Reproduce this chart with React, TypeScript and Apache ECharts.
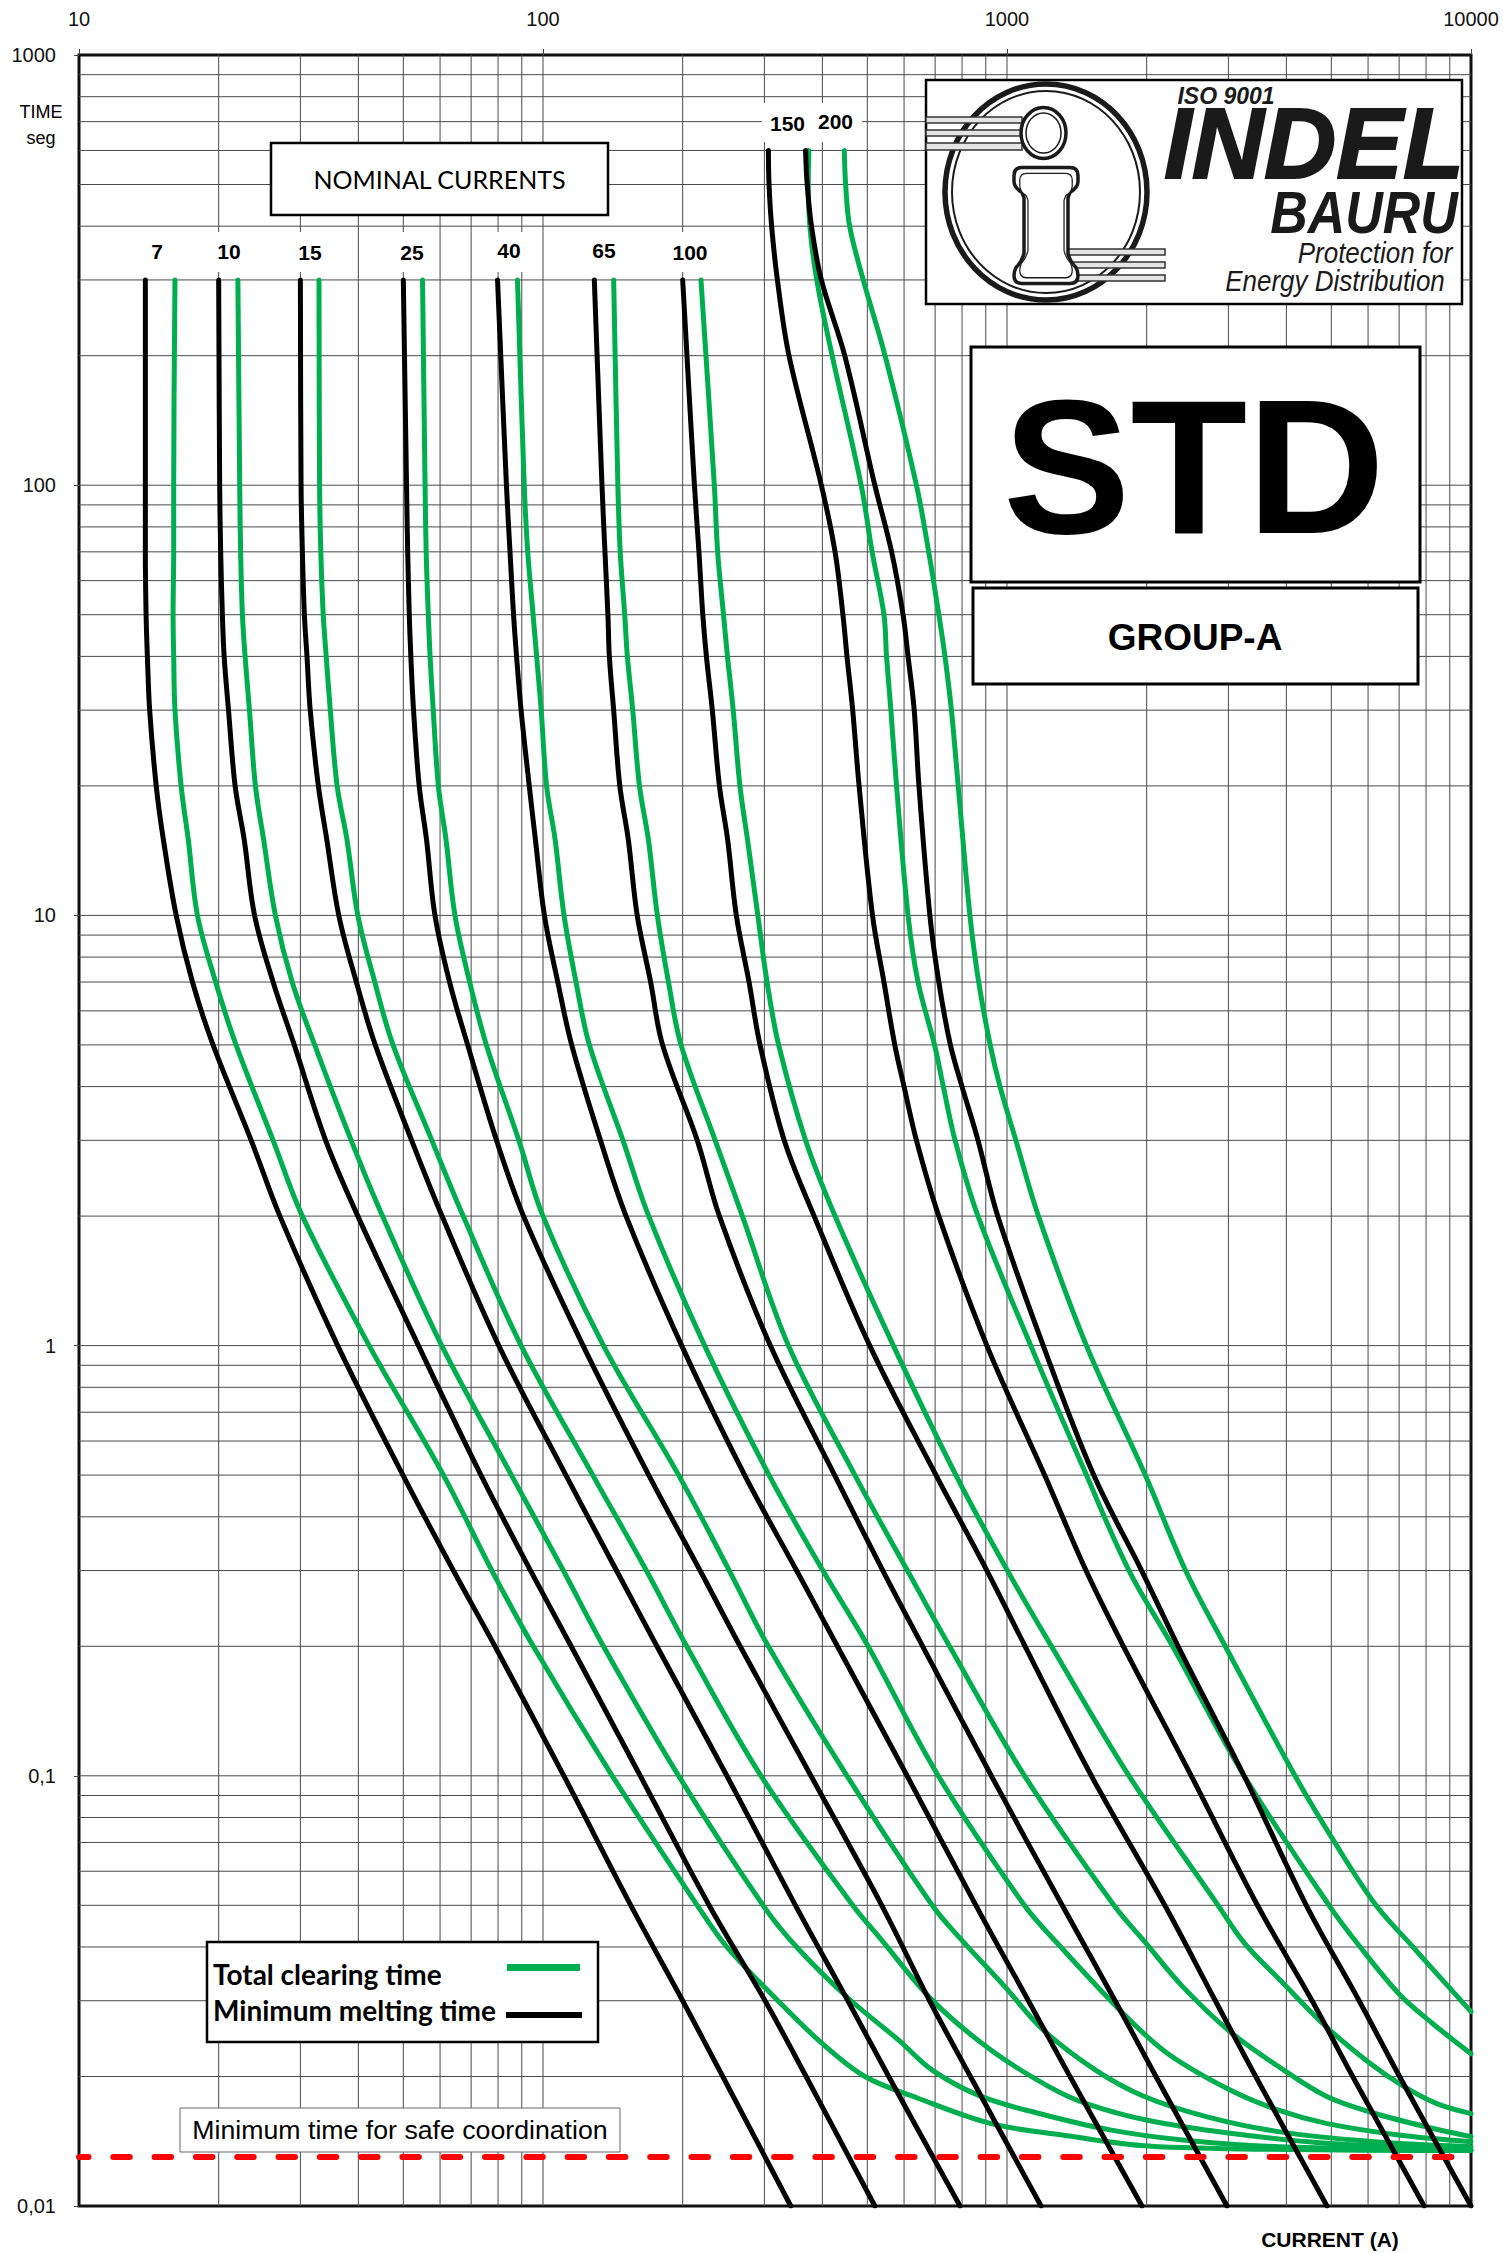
import React, { useEffect, useRef } from "react";
import * as echarts from "echarts";

type P = [number, number];

const xMinor = [20,30,40,50,60,70,80,90,100,200,300,400,500,600,700,800,900,1000,2000,3000,4000,5000,6000,7000,8000,9000];
const yMinor = [0.02,0.03,0.04,0.05,0.06,0.07,0.08,0.09,0.1,0.2,0.3,0.4,0.5,0.6,0.7,0.8,0.9,1,2,3,4,5,6,7,8,9,10,20,30,40,50,60,70,80,90,100,200,300,400,500,600,700,800,900];

const lowTimes = [300,100,70,50,40,30,20,15,10,7,5,3,2,1,0.5,0.3,0.2,0.1,0.05,0.03,0.02,0.01];
const tallTimes = [600,500,400,300,200,100,70,50,40,30,20,10,7,5,4,3,2,1,0.5,0.3,0.2,0.1,0.05,0.03,0.02,0.01];

const melt7 = [13.9,13.9,13.9,13.95,14.04,14.2,14.67,15.2,16.2,17.56,19.45,23.5,27.1,36.1,49.9,64.1,78.8,110.9,154.6,200,244,342];
const melt10 = [20,20.1,20.2,20.37,20.55,21.0,21.7,22.7,23.9,26.2,29.1,34,39.9,53.9,73.5,94,115,162,228,301,369,519];
const melt15 = [30,30.1,30.3,30.6,31,31.5,32.8,34.2,36.3,39.6,43.5,52.1,60.6,80.3,112,144,176,249,350,454,556,792];
const melt25 = [50,50.8,51.1,51.5,51.9,52.6,54.1,56.1,58.5,62.9,68.8,79.4,90.8,122,169,218,266,378,537,681,834,1184];
const melt40 = [79.8,83.4,84.9,86.4,87.7,89.7,93.4,96.3,100.7,107.6,115.3,133,151,199,272,352,431,609,857,1112,1367,1954];
const melt65 = [129,134,136,138,139,142,146.4,152.7,159.6,170.6,181,215,240,309,425,540,658,925,1315,1710,2094,2979];
const melt100 = [200,212,216.8,221,225,231.7,240,250,261,278,293.6,331,384,506,703,905,1094,1520,2188,2812,3436,4893];
const melt150 = [306,307,311,320,339,398,426,443,452,465,480,513,543,573,600,638,713,905,1205,1480,1782,2495,3466,4545,5559,7925];
const melt200 = [368,371,379,398,447,519,564,597,612,631,646,682,713,755,800,866,955,1197,1538,1950,2338,3243,4416,5740,7015,10000];

const clear7: P[] = [[16.1,300],[16,100],[16,70],[15.95,50],[16,40],[16.1,30],[16.6,20],[17.2,15],[18,10],[19.7,7],[21.8,5],[26.2,3],[30.3,2],[42.2,1],[61,0.5],[77.6,0.3],[95.3,0.2],[141,0.1],[215,0.05],[249,0.04],[321,0.03],[399,0.0239],[494,0.02],[643,0.0178],[920,0.01556],[1315,0.01462],[2118,0.01374],[10000,0.01345]];
const clear10: P[] = [[22,300],[22.2,100],[22.3,70],[22.5,50],[22.8,40],[23.3,30],[24,20],[25,15],[26.5,10],[28.8,7],[32.2,5],[38.6,3],[45.1,2],[60.5,1],[85.5,0.5],[110.6,0.3],[135,0.2],[196,0.1],[298,0.05],[352,0.04],[455,0.0304],[584,0.0243],[690,0.0207],[877,0.018],[1167,0.01643],[1667,0.01503],[2388,0.01424],[3846,0.01374],[10000,0.0135]];
const clear15: P[] = [[32.9,300],[33,100],[33.2,70],[33.6,50],[34.1,40],[34.8,30],[36,20],[37.8,15],[39.9,10],[43.4,7],[47.5,5],[57.6,3],[67.3,2],[89.7,1],[128,0.5],[167,0.3],[204,0.2],[295,0.1],[465,0.05],[532,0.042],[690,0.0301],[920,0.0231],[1225,0.019],[1482,0.0173],[2018,0.0158],[3027,0.01476],[4875,0.01399],[10000,0.01355]];
const clear25: P[] = [[55,300],[55.7,100],[56,70],[56.6,50],[57.1,40],[58,30],[59.5,20],[61.8,15],[64.6,10],[69.5,7],[75.5,5],[88.7,3],[100,2],[135,1],[196,0.5],[252,0.3],[306,0.2],[452,0.1],[690,0.05],[797,0.0416],[988,0.0324],[1195,0.0257],[1552,0.0207],[1971,0.018],[2687,0.01614],[3846,0.01489],[6194,0.01411],[10000,0.01374]];
const clear40: P[] = [[88.1,300],[91.1,100],[92.7,70],[95.2,50],[96.9,40],[99.1,30],[101.8,20],[106.2,15],[111,10],[117.8,7],[125.9,5],[148.7,3],[169,2],[223,1],[307,0.5],[401,0.3],[502,0.2],[711,0.1],[1090,0.05],[1284,0.0408],[1793,0.0278],[2222,0.0226],[3027,0.0186],[3846,0.0167],[4875,0.01556],[6982,0.01462],[10000,0.01411]];
const clear65: P[] = [[142,300],[145,100],[146.7,70],[150,50],[152,40],[156.1,30],[161.4,20],[168.7,15],[176.4,10],[186.4,7],[198.4,5],[235,3],[269,2],[338,1],[470,0.5],[610,0.3],[752,0.2],[1091,0.1],[1700,0.05],[1994,0.0408],[2388,0.0324],[3027,0.0254],[3846,0.0211],[4875,0.018],[6194,0.01643],[8248,0.01516],[10000,0.0145]];
const clear100: P[] = [[219,300],[234,100],[237.9,70],[244.9,50],[249.8,40],[257,30],[265.7,20],[275.9,15],[290.4,10],[304,7],[322,5],[368,3],[426,2],[569,1],[776,0.5],[1002,0.3],[1247,0.2],[1832,0.1],[2850,0.05],[3252,0.0408],[3932,0.033],[4875,0.0261],[6045,0.0215],[7145,0.019],[8440,0.0173],[10000,0.0164]];
const clear150: P[] = [[374,600],[373,500],[376,400],[389,300],[420,200],[485,100],[512,70],[543,50],[550,40],[562,30],[578,20],[612,10],[643,7],[698,5],[729,4],[773,3],[866,2],[1125,1],[1483,0.5],[1832,0.3],[2275,0.2],[3243,0.1],[4943,0.05],[5770,0.04],[6982,0.0312],[8248,0.0266],[10000,0.0226]];
const clear200: P[] = [[446,600],[449,500],[458,400],[490,300],[546,200],[638,100],[678,70],[713,50],[735,40],[759,30],[785,20],[832,10],[869,7],[920,5],[966,4],[1045,3],[1169,2],[1483,1],[1986,0.5],[2426,0.3],[2954,0.2],[4176,0.1],[5085,0.07],[6240,0.05],[7500,0.04],[8050,0.0367],[10000,0.0283]];

const safeTime = 0.013;
const safeLine: P[] = [[10,safeTime],[9420,safeTime]];

const ratingLabels: [string, number, number, number][] = [
  ["7",157,251,0],["10",229,251,46],["15",310,252,46],["25",412,252,46],["40",509,250,50],["65",604,250,0],["100",690,252,50],
];

const BLACK = "#000000";
const GREEN = "#00ae4f";
const SANS = '"Liberation Sans", Arial, sans-serif';
const CAL = 'Lato, "Open Sans", sans-serif';

const iPath = "M-24 -58 L24 -58 Q32 -58 32 -50 L32 -44 Q32 -38 24 -33 L22 -28 L22 28 Q24 36 30 42 Q32 46 32 50 Q32 58 24 58 L-24 58 Q-32 58 -32 50 Q-32 46 -30 42 Q-24 36 -22 28 L-22 -28 L-24 -33 Q-32 -38 -32 -44 L-32 -50 Q-32 -58 -24 -58 Z";
echarts.graphic.registerShape("indelI", (echarts.graphic as any).extendPath(iPath, {}));

function txt(text: string, x: number, y: number, font: string, align = "center", fill = "#000", extra: any = {}) {
  return { type: "text", z: 110, x, y, silent: true, ...extra, style: { text, font, fill, align, verticalAlign: "middle", ...(extra.style || {}) } };
}
function box(x: number, y: number, w: number, h: number, lw = 2.5, stroke = "#000", fill = "#fff", z = 100) {
  return { type: "rect", z, silent: true, shape: { x, y, width: w, height: h }, style: { fill, stroke, lineWidth: lw } };
}
function oval(cx: number, cy: number, rx: number, ry: number, lw: number, fill: any, z: number) {
  return { type: "ellipse", z, silent: true, shape: { cx, cy, rx, ry }, style: { fill, stroke: "#1a1a1a", lineWidth: lw } };
}

const zip = (xs: number[], ts: number[]): P[] => xs.map((x, i) => [x, ts[i]]);

export default function App() {
  const ref = useRef<HTMLDivElement>(null);
  useEffect(() => {
    document.body.style.margin = "0";
    const chart = echarts.init(ref.current!, undefined, { renderer: "svg" });

    const gridSeries = [
      ...xMinor.map((v) => ({ d: [[v, 0.01], [v, 1000]] })),
      ...yMinor.map((v) => ({ d: [[10, v], [10000, v]] })),
    ].map((g) => ({
      type: "line", silent: true, z: 1, showSymbol: false, symbol: "none", data: g.d,
      lineStyle: { color: "#4a4a4a", width: 1 },
    }));

    const curve = (name: string, data: P[], color: string, z: number) => ({
      type: "line", name, z, data, showSymbol: false, symbol: "none", smooth: 0.35,
      lineStyle: { color, width: 5, cap: "round", join: "round" }, silent: true,
    });

    const greens: [string, P[]][] = [["7",clear7],["10",clear10],["15",clear15],["25",clear25],["40",clear40],["65",clear65],["100",clear100],["150",clear150],["200",clear200]];
    const blacks: [string, P[]][] = [
      ["7",zip(melt7,lowTimes)],["10",zip(melt10,lowTimes)],["15",zip(melt15,lowTimes)],["25",zip(melt25,lowTimes)],["40",zip(melt40,lowTimes)],["65",zip(melt65,lowTimes)],["100",zip(melt100,lowTimes)],
      ["150",zip(melt150,tallTimes)],["200",zip(melt200,tallTimes)],
    ];

    const graphic: any[] = [
      txt("TIME", 41, 112, `18px ${SANS}`),
      txt("seg", 41, 138, `18px ${SANS}`),
      ...ratingLabels.filter((r) => r[3] > 0).map((r) => box(r[1] - r[3] / 2, 232, r[3], 40, 0, "#fff", "#fff", 100)),
      box(762, 103, 100, 39, 0, "#fff", "#fff", 100),
      ...ratingLabels.map((r) => txt(r[0], r[1], r[2], `bold 21px ${SANS}`)),
      txt("150", 787.5, 123, `bold 21px ${SANS}`),
      txt("200", 835.5, 121, `bold 21px ${SANS}`),
      box(271, 143, 337, 72),
      txt("NOMINAL CURRENTS", 439.5, 179, `25px ${CAL}`),
      box(926, 80, 536, 224),
      oval(1046, 192, 101, 108, 5.5, "#fff", 101),
      oval(1046, 192, 94, 101, 2, "none", 102),
      ...[[117,123],[130,136],[143,150]].map((b) => box(926, b[0], 96, b[1] - b[0], 1.5, "#333", "#e4e4e4", 103)),
      ...[[249,255],[262,268],[275,281]].map((b) => box(1068, b[0], 97, b[1] - b[0], 1.5, "#333", "#e4e4e4", 103)),
      oval(1043.5, 133, 22.5, 25.5, 3.5, "#fff", 104),
      oval(1043.5, 133, 17.5, 20, 1.5, "#fff", 105),
      { type: "indelI", z: 104, silent: true, x: 1046, y: 225.5, scaleX: 1, scaleY: 1, style: { fill: "#fff", stroke: "#1a1a1a", lineWidth: 3.5 } },
      { type: "indelI", z: 105, silent: true, x: 1046, y: 225.5, scaleX: 0.82, scaleY: 0.9, style: { fill: "#fff", stroke: "#1a1a1a", lineWidth: 1.5 } },
      txt("ISO 9001", 1226, 96, `italic bold 23px ${SANS}`, "center", "#1a1a1a"),
      txt("INDEL", 1314, 143, `italic bold 100px ${SANS}`, "center", "#1a1a1a", { style: { stroke: "#1a1a1a", lineWidth: 2 } }),
      txt("BAURU", 1364, 213, `italic bold 52px ${SANS}`, "center", "#1a1a1a", { scaleY: 1.14 }),
      txt("Protection for", 1375, 253, `italic 26px ${SANS}`, "center", "#1a1a1a", { scaleY: 1.1 }),
      txt("Energy Distribution", 1335, 281, `italic 26px ${SANS}`, "center", "#1a1a1a", { scaleY: 1.1 }),
      box(971, 347, 449, 235, 3),
      txt("STD", 1194, 466, `bold 191px ${SANS}`),
      box(973, 588, 445, 96, 3),
      txt("GROUP-A", 1195, 637, `bold 37px ${SANS}`),
      box(207, 1942, 391, 100),
      txt("Total clearing time", 213, 1974, `bold 28px ${CAL}`, "left"),
      txt("Minimum melting time", 213, 2010, `bold 28px ${CAL}`, "left"),
      { type: "rect", z: 110, silent: true, shape: { x: 507, y: 1964, width: 73, height: 7 }, style: { fill: GREEN } },
      { type: "rect", z: 110, silent: true, shape: { x: 506, y: 2012, width: 76, height: 6 }, style: { fill: BLACK } },
      box(180, 2108, 440, 44, 1, "#666"),
      txt("Minimum time for safe coordination", 400, 2130, `26.7px ${SANS}`),
      txt("CURRENT (A)", 1330, 2239, `bold 21px ${SANS}`),
    ];

    chart.setOption({
      animation: false,
      backgroundColor: "#fff",
      grid: { left: 79, top: 55, width: 1392, height: 2151, show: true, borderColor: "#111", borderWidth: 3, backgroundColor: "#fff", containLabel: false },
      xAxis: {
        type: "log", logBase: 10, min: 10, max: 10000, position: "top",
        axisLine: { show: false },
        axisTick: { show: true, length: 6, lineStyle: { color: "#444", width: 1 } },
        axisLabel: { show: true, margin: 26, fontSize: 20, fontFamily: SANS, color: "#111", formatter: (v: number) => String(Math.round(v)) },
        splitLine: { show: false }, minorSplitLine: { show: false },
      },
      yAxis: {
        type: "log", logBase: 10, min: 0.01, max: 1000,
        axisLine: { show: false },
        axisTick: { show: true, length: 5, lineStyle: { color: "#444", width: 1 } },
        axisLabel: { show: true, margin: 23, fontSize: 20, fontFamily: SANS, color: "#111", formatter: (v: number) => String(v).replace(".", ",") },
        splitLine: { show: false }, minorSplitLine: { show: false },
      },
      series: [
        ...gridSeries,
        ...greens.map(([n, d]) => curve(`Total clearing time ${n}`, d, GREEN, 3)),
        ...blacks.map(([n, d]) => curve(`Minimum melting time ${n}`, d, BLACK, 4)),
        {
          type: "line", name: "Minimum time for safe coordination", z: 5, data: safeLine, clip: false, showSymbol: false, symbol: "none", silent: true,
          lineStyle: { color: "#ff0000", width: 6, type: [16.5, 24.8], dashOffset: 7.3, cap: "round" },
        },
      ],
      graphic: { elements: graphic },
    } as any);
    return () => chart.dispose();
  }, []);
  return <div ref={ref} style={{ width: 1503, height: 2253 }} />;
}
